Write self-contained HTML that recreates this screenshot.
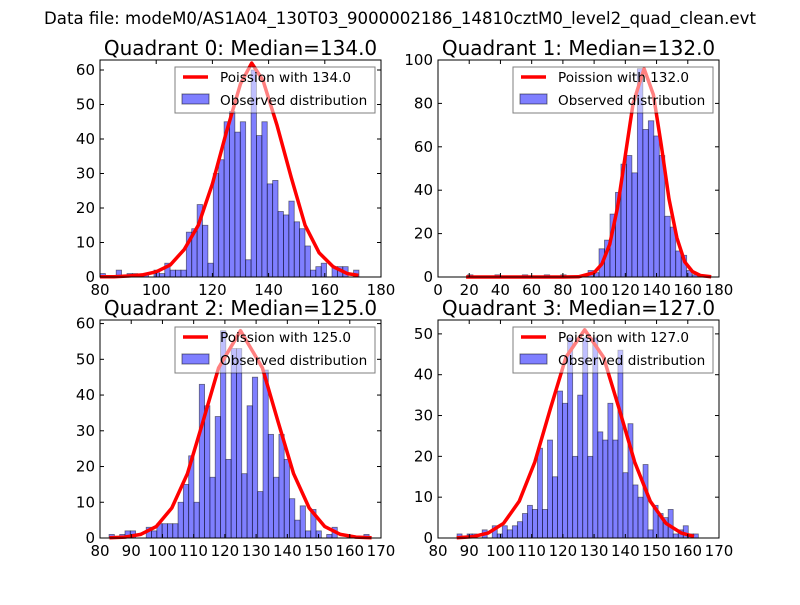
<!DOCTYPE html>
<html><head><meta charset="utf-8"><style>
body{margin:0;background:#fff}
svg text{font-family:"DejaVu Sans","Liberation Sans",sans-serif}
</style></head><body>
<svg id="chart" width="800" height="600" xmlns="http://www.w3.org/2000/svg">
<rect width="800" height="600" fill="#fff"/>
<text x="400" y="24" font-size="16.6" text-anchor="middle">Data file: modeM0/AS1A04_130T03_9000002186_14810cztM0_level2_quad_clean.evt</text>
</svg>
<script>
// Quadrant 0
const q0Counts=[1,0,0,2,0,1,1,0,1,0,2,1,4,2,2,2,13,14,21,15,4,30,34,45,48,42,45,5,60,41,45,27,28,19,18,22,16,14,9,2,3,4,0,3,3,3,0,2];
const q0CurveX=[80,85,90,95,100,105,110,115,120,125,130,134,138,143,148,153,158,163,168,172];
const q0CurveY=[0.1,0.1,0.3,0.6,1.5,3.5,8,15,27,42,56,62,57,44,29,15,7,3,1,0.5];
// Quadrant 1
const q1Counts=[1,0,0,0,0,1,0,0,0,0,1,0,0,0,1,0,0,1,0,0,0,1,3,2,13,17,29,39,52,56,48,96,68,72,65,56,28,23,12,10,3,1];
const q1CurveX=[18,40,60,80,90,100,105,110,115,120,125,132,138,143,148,153,158,163,168,175];
const q1CurveY=[0,0,0,0,0.1,2,6,15,32,56,80,96,84,61,36,18,7,2.5,0.7,0.1];
// Quadrant 2
const q2Counts=[1,0,1,2,2,0,0,3,2,4,4,4,4,10,15,23,10,43,37,17,34,58,22,53,53,18,37,45,13,47,29,17,29,22,11,5,9,2,8,2,0,1,3,0,0,0,0,0,1];
const q2CurveX=[83,88,93,98,103,108,113,118,125,132,137,142,147,152,157,162,167];
const q2CurveY=[0.05,0.24,1,3.2,8.4,18,32.6,47.6,58,47.6,32.6,18,8.4,3.2,1,0.24,0.05];
// Quadrant 3
const q3Counts=[1,0,1,1,0,2,0,3,1,3,2,3,4,6,8,7,22,7,24,15,36,33,49,20,35,49,20,49,26,24,33,24,46,16,28,13,10,18,2,8,6,5,7,1,2,3,1,1];
const q3CurveX=[86,91,96,101,106,111,116,121,127,133,138,143,148,153,158,162];
const q3CurveY=[0.07,0.3,1.2,3.6,9,18.6,31.7,44.3,51,44.3,31.7,18.6,9,3.6,1.2,0.4];

const titles=["Quadrant 0: Median=134.0","Quadrant 1: Median=132.0","Quadrant 2: Median=125.0","Quadrant 3: Median=127.0"];
const lambdas=["134.0","132.0","125.0","127.0"];
const xTicks=[[80,100,120,140,160,180],[0,20,40,60,80,100,120,140,160,180],[80,90,100,110,120,130,140,150,160,170],[80,90,100,110,120,130,140,150,160,170]];
const yTicks=[[0,10,20,30,40,50,60],[0,20,40,60,80,100],[0,10,20,30,40,50,60],[0,10,20,30,40,50]];

const panels=[
 {x:100,y:60,w:281,h:217,xmin:80,xmax:180,ymax:62.9,bin0:80,bw:1.92,counts:q0Counts,cx:q0CurveX,cy:q0CurveY},
 {x:438,y:60,w:281,h:217,xmin:0,xmax:180,ymax:100,bin0:18.9,bw:3.51,counts:q1Counts,cx:q1CurveX,cy:q1CurveY},
 {x:100,y:320,w:281,h:218,xmin:80,xmax:170,ymax:61,bin0:82.9,bw:1.70,counts:q2Counts,cx:q2CurveX,cy:q2CurveY},
 {x:438,y:320,w:281,h:218,xmin:80,xmax:170,ymax:53.4,bin0:86.1,bw:1.61,counts:q3Counts,cx:q3CurveX,cy:q3CurveY}
];
const NS="http://www.w3.org/2000/svg";
const svg=document.getElementById('chart');
function mk(tag,attrs,parent,txt){const e=document.createElementNS(NS,tag);for(const k in attrs)e.setAttribute(k,attrs[k]);if(txt!==undefined)e.textContent=txt;(parent||svg).appendChild(e);return e;}

panels.forEach((p,i)=>{
  const g=mk('g',{});
  
  
  const sx=v=>p.x+(v-p.xmin)/(p.xmax-p.xmin)*p.w;
  const sy=v=>p.y+p.h-v/p.ymax*p.h;
  const t=mk('text',{x:p.x+p.w/2,y:p.y-5,'font-size':20,'text-anchor':'middle'},g,titles[i]);
  
  
  p.counts.forEach((c,j)=>{
    if(c<=0)return;
    const x0=sx(p.bin0+j*p.bw),x1=sx(p.bin0+(j+1)*p.bw);
    const r=mk('rect',{x:x0,y:sy(c),width:x1-x0,height:sy(0)-sy(c),fill:'#0000ff','fill-opacity':0.5,stroke:'#000','stroke-opacity':0.5,'stroke-width':0.8},g);
    
    
  });
  const pts=p.cx.map((v,k)=>sx(v).toFixed(1)+','+sy(p.cy[k]).toFixed(1)).join(' ');
  const pl=mk('polyline',{points:pts,fill:'none',stroke:'#ff0000','stroke-width':3.5,'stroke-linejoin':'round'},g);
  
  
  const fr=mk('rect',{x:p.x,y:p.y,width:p.w,height:p.h,fill:'none',stroke:'#000','stroke-width':1},g);
  
  
  xTicks[i].forEach(v=>{
    const X=sx(v);
    mk('line',{x1:X,x2:X,y1:p.y+p.h,y2:p.y+p.h-4,stroke:'#000'},g);
    mk('line',{x1:X,x2:X,y1:p.y,y2:p.y+4,stroke:'#000'},g);
    const tl=mk('text',{x:X,y:p.y+p.h+18,'font-size':15,'text-anchor':'middle'},g,String(v));
    
    
  });
  yTicks[i].forEach(v=>{
    const Y=sy(v);
    mk('line',{x1:p.x,x2:p.x+4,y1:Y,y2:Y,stroke:'#000'},g);
    mk('line',{x1:p.x+p.w,x2:p.x+p.w-4,y1:Y,y2:Y,stroke:'#000'},g);
    const tl=mk('text',{x:p.x-5,y:Y+5,'font-size':15,'text-anchor':'end'},g,String(v));
    
    
  });
  const lg=mk('g',{},g);
  
  
  const lx=p.x+75,ly=p.y+7;
  mk('rect',{x:lx,y:ly,width:200,height:46,fill:'#fff','fill-opacity':0.5,stroke:'#000','stroke-opacity':0.5,'stroke-width':1},lg);
  mk('line',{x1:lx+8,x2:lx+33,y1:ly+10,y2:ly+10,stroke:'#ff0000','stroke-width':3.5},lg);
  const e1=mk('text',{x:lx+45,y:ly+15,'font-size':13.6},lg,'Poission with '+lambdas[i]);
  
  
  mk('rect',{x:lx+7,y:ly+27,width:27,height:10,fill:'#0000ff','fill-opacity':0.5,stroke:'#000','stroke-opacity':0.5},lg);
  const e2=mk('text',{x:lx+45,y:ly+38,'font-size':13.6},lg,'Observed distribution');
  
  
});
</script>
</body></html>
